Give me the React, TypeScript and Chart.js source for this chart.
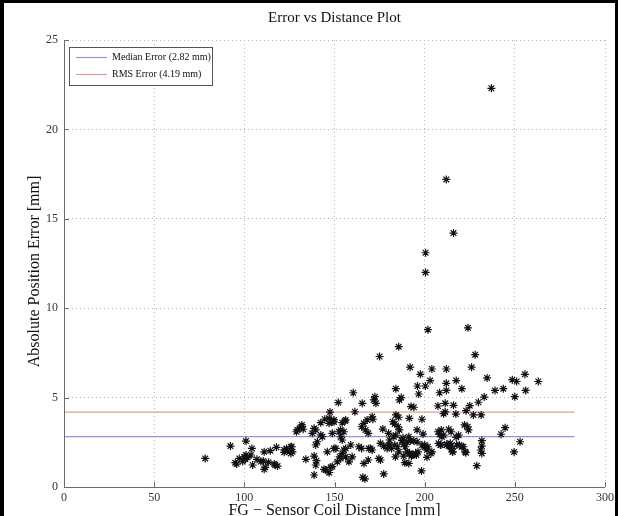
import { useEffect, useRef } from 'react';
import { Chart, registerables } from 'chart.js';
Chart.register(...registerables);

// Sensor coil distance [mm]
const distance = [
  237, 212, 216, 200.5, 200.5, 201.8, 224, 185.6, 175, 228, 191.9, 204, 212, 226, 197.6, 203, 217.5, 234.6, 255.6, 248.6,
  251, 196, 200.4, 212, 212, 220.6, 184, 208.3, 196.7, 243.6, 239, 256, 263,
  172.4, 171.8, 173, 187, 186, 233, 250, 229.8, 211.4, 207.4, 216, 192.4, 194, 225, 223, 211.4, 210.5,
  217.3, 227, 231.3, 170.9, 171.3, 184.1, 185.6, 191.5, 198.5, 182.3, 183.4, 185.3, 186, 176.8, 195.8, 199.1, 207.4, 208.3, 209.6, 213.3,
  214.7, 222.1, 223.9, 224.3, 218.8, 217.5, 244.6, 242.4, 231.7, 231.7, 231.1, 231.7, 252.9, 249.6, 228.9, 219.2, 221.5, 214.2, 213.3, 215.6,
  222.8, 207.7, 198.5, 200, 201.3, 201.8, 204, 198.2, 201.3, 194, 195.8, 191.2, 192.1, 187.5, 188.4, 189.3, 190.2, 191.5, 193, 189,
  191.2, 195.4, 183.8, 185.6, 180.1, 181.6, 183.4, 175.5, 177.3, 179.2, 180.5, 182.9, 170.9, 170, 174.6, 175.5, 177.3, 210.5, 209.2, 212.3,
  215, 208.7, 180, 184, 188,
  160.4, 152.1, 165.4, 147.5, 161.3, 142.4, 144.6, 147, 148.8, 149.7, 156.2, 129.4, 131.9, 132.6, 138.7, 139.6, 137.7, 143.3, 142.4, 148.8,
  152.5, 153.4, 155.2, 165, 166.3, 168.1, 167.2, 168.7, 122.1, 123.4, 125.8, 126.7, 134.1, 138.7, 140, 139.6, 138.7, 146, 149.7, 145.1,
  147.9, 147, 153.4, 156.2, 158, 159, 163.5, 165, 155.2, 169, 165.7, 166.9, 166.3, 159.8, 151.6, 152.9, 168.7, 153.4, 154.3,
  78.3, 92.3, 100.9, 104.2, 100, 100.9, 101.8, 100.6, 95, 95.7, 104.6, 107, 111, 114.4, 117.8, 110.5, 113.4, 117.1, 111.6, 97.2,
  99.1, 103.7, 109.2, 122.1, 123.9, 126.3, 125.8, 116.6, 118.4, 111, 128.9, 130.7, 131.9, 139.6, 140.5, 144.2, 148.8, 150.7, 154.3, 156.2,
  147, 149.7, 154.3, 155.8,
  180.5, 185, 187.5, 190.2, 191.7, 192.6, 196.3, 188.4, 193, 195, 200, 203.5, 209, 212.3, 214.2, 215.4, 217.8, 220.6, 222.5
];

// Absolute position error [mm]
const error = [
  22.3, 17.2, 14.2, 13.1, 12.0, 8.8, 8.9, 7.85, 7.3, 7.4, 6.7, 6.6, 6.6, 6.7, 6.3, 5.95, 5.95, 6.1, 6.3, 6.0,
  5.9, 5.65, 5.65, 5.8, 5.4, 5.5, 5.5, 5.27, 5.2, 5.5, 5.4, 5.4, 5.9,
  5.05, 4.87, 4.68, 5.0, 4.87, 5.03, 5.05, 4.74, 4.68, 4.53, 4.57, 4.5, 4.46, 4.55, 4.27, 4.2, 4.1,
  4.08, 4.03, 4.03, 3.93, 3.79, 4.03, 3.9, 3.84, 3.79, 3.65, 3.52, 3.37, 3.19, 3.24, 3.19, 2.96, 3.09, 2.95, 2.81, 3.23,
  3.09, 3.47, 3.37, 3.19, 2.9, 2.78, 3.32, 2.95, 2.59, 2.29, 2.07, 1.88, 2.53, 1.96, 1.19, 2.35, 2.25, 2.44, 2.29, 1.97,
  1.92, 2.44, 2.35, 2.22, 2.07, 2.25, 1.97, 0.9, 1.66, 2.59, 2.53, 2.81, 2.59, 2.59, 2.4, 2.25, 1.97, 1.88, 1.79, 1.36,
  1.32, 1.79, 1.69, 1.97, 2.35, 2.16, 2.35, 2.44, 2.29, 2.16, 2.63, 2.81, 2.07, 2.16, 1.6, 1.51, 0.73, 2.9, 3.19, 2.35,
  2.16, 2.35, 3.0, 2.9, 2.75,
  5.27, 4.72, 4.68, 4.19, 4.21, 3.6, 3.79, 3.84, 3.65, 3.75, 3.75, 3.19, 3.37, 3.23, 3.28, 3.19, 3.0, 2.81, 2.91, 3.0,
  3.09, 3.19, 3.09, 3.37, 3.56, 3.75, 3.19, 3.0, 2.07, 2.16, 2.25, 1.97, 1.55, 1.73, 1.47, 1.23, 0.67, 1.97, 2.16, 0.95,
  1.1, 0.8, 1.6, 1.69, 1.41, 2.35, 2.25, 2.16, 2.07, 2.16, 0.54, 0.46, 1.32, 1.69, 1.41, 1.69, 1.51, 2.81, 2.63,
  1.6, 2.29, 2.57, 2.16, 1.69, 1.79, 1.66, 1.55, 1.36, 1.28, 1.23, 1.55, 1.97, 2.03, 2.22, 1.45, 1.38, 1.23, 1.1, 1.6,
  1.42, 1.79, 1.42, 1.94, 2.03, 2.25, 1.88, 1.29, 1.17, 0.99, 3.09, 3.28, 3.47, 2.35, 2.53, 0.99, 1.14, 2.16, 1.88, 2.16,
  3.56, 3.65, 3.6, 3.69,
  2.35, 2.25, 2.63, 2.5, 1.88, 1.73, 1.97, 1.73, 1.79, 1.88, 2.35, 1.88, 2.35, 2.4, 2.25, 1.97, 2.35, 2.25, 1.97
];

const medianError = 2.82;
const rmsError = 4.19;
const refLineRange = [0, 283];
const xTickValues = [0, 50, 100, 150, 200, 250, 300];
const yTickValues = [0, 5, 10, 15, 20, 25];
const legendLabels = ['Median Error (2.82 mm)', 'RMS Error (4.19 mm)'];
const titleText = 'Error vs Distance Plot';
const xTitle = 'FG \u2212 Sensor Coil Distance [mm]';
const yTitle = 'Absolute Position Error [mm]';

const SERIF = '"Liberation Serif", "DejaVu Serif", serif';
const MEDIAN_COLOR = '#9494d2';
const RMS_COLOR = '#e59c92';

const decorPlugin = {
  id: 'decor',
  afterDraw(chart: any) {
    const { ctx, chartArea, scales } = chart;
    const xs = scales.x;
    const ys = scales.y;
    ctx.save();
    // axes
    ctx.strokeStyle = '#6a6a6a';
    ctx.lineWidth = 1;
    ctx.beginPath();
    ctx.moveTo(Math.round(chartArea.left) + 0.5, chartArea.top);
    ctx.lineTo(Math.round(chartArea.left) + 0.5, Math.round(chartArea.bottom) + 0.5);
    ctx.lineTo(chartArea.right, Math.round(chartArea.bottom) + 0.5);
    ctx.stroke();
    // inner ticks
    ctx.beginPath();
    for (const v of xTickValues) {
      const px = Math.round(xs.getPixelForValue(v)) + 0.5;
      ctx.moveTo(px, chartArea.bottom);
      ctx.lineTo(px, chartArea.bottom - 5);
    }
    for (const v of yTickValues) {
      const py = Math.round(ys.getPixelForValue(v)) + 0.5;
      ctx.moveTo(chartArea.left, py);
      ctx.lineTo(chartArea.left + 5, py);
    }
    ctx.stroke();

    // title
    ctx.fillStyle = '#111';
    ctx.textAlign = 'center';
    ctx.textBaseline = 'middle';
    ctx.font = `15px ${SERIF}`;
    const cx = (chartArea.left + chartArea.right) / 2;
    ctx.fillText(titleText, cx, 18);
    // x title
    ctx.font = `16px ${SERIF}`;
    ctx.textBaseline = 'top';
    ctx.fillText(xTitle, cx, 503);
    // y title
    ctx.save();
    ctx.translate(35, (chartArea.top + chartArea.bottom) / 2 + 8);
    ctx.rotate(-Math.PI / 2);
    ctx.textBaseline = 'middle';
    ctx.fillText(yTitle, 0, 0);
    ctx.restore();

    // legend
    const lx = 69, ly = 47, lw = 143, lh = 38;
    ctx.fillStyle = '#fff';
    ctx.fillRect(lx, ly, lw, lh);
    ctx.strokeStyle = '#555';
    ctx.lineWidth = 1;
    ctx.strokeRect(lx + 0.5, ly + 0.5, lw, lh);
    const colors = [MEDIAN_COLOR, RMS_COLOR];
    ctx.font = `10px ${SERIF}`;
    ctx.textAlign = 'left';
    ctx.textBaseline = 'middle';
    legendLabels.forEach((lab, i) => {
      const yy = ly + 10.5 + i * 17;
      ctx.strokeStyle = colors[i];
      ctx.lineWidth = 1.2;
      ctx.beginPath();
      ctx.moveTo(lx + 7, yy);
      ctx.lineTo(lx + 38, yy);
      ctx.stroke();
      ctx.fillStyle = '#111';
      ctx.fillText(lab, lx + 43, yy);
    });

    // outer frame
    ctx.fillStyle = '#000';
    ctx.fillRect(0, 0, 4, 516);
    ctx.fillRect(0, 0, 618, 3);
    ctx.fillRect(615, 0, 3, 516);
    ctx.restore();
  }
};

export default function App() {
  const ref = useRef<HTMLCanvasElement | null>(null);
  useEffect(() => {
    if (!ref.current) return;
    const points = distance.map((d, i) => ({ x: d, y: error[i] }));
    const chart = new Chart(ref.current, {
      type: 'scatter',
      data: {
        datasets: [
          {
            label: 'Error',
            data: points,
            pointStyle: 'star',
            radius: 4,
            borderColor: '#111',
            backgroundColor: '#111',
            borderWidth: 1.2,
            showLine: false
          } as any,
          {
            label: legendLabels[0],
            data: refLineRange.map((x) => ({ x, y: medianError })),
            showLine: true,
            borderColor: MEDIAN_COLOR,
            borderWidth: 1.3,
            pointRadius: 0
          },
          {
            label: legendLabels[1],
            data: refLineRange.map((x) => ({ x, y: rmsError })),
            showLine: true,
            borderColor: RMS_COLOR,
            borderWidth: 1.3,
            pointRadius: 0
          }
        ]
      },
      options: {
        responsive: false,
        animation: false,
        devicePixelRatio: 1,
        layout: { padding: { left: 0, right: 11, top: 40, bottom: 0 } },
        plugins: { legend: { display: false }, tooltip: { enabled: false }, title: { display: false } },
        scales: {
          x: {
            type: 'linear',
            min: 0,
            max: 300,
            afterBuildTicks: (s: any) => { s.ticks = xTickValues.map((v) => ({ value: v })); },
            afterFit: (s: any) => { s.height = 29; },
            ticks: { font: { family: SERIF, size: 12 }, color: '#333', padding: 4, maxRotation: 0 },
            grid: { color: '#b5b5b5', drawTicks: false } as any,
            border: { display: false, dash: [1, 3] }
          },
          y: {
            type: 'linear',
            min: 0,
            max: 25,
            afterBuildTicks: (s: any) => { s.ticks = yTickValues.map((v) => ({ value: v })); },
            afterFit: (s: any) => { s.width = 64; },
            ticks: { font: { family: SERIF, size: 12 }, color: '#333', padding: 6 },
            grid: { color: '#b5b5b5', drawTicks: false } as any,
            border: { display: false, dash: [1, 3] }
          }
        }
      },
      plugins: [decorPlugin]
    });
    return () => chart.destroy();
  }, []);
  return (
    <div style={{ position: 'absolute', left: 0, top: 0, width: 618, height: 516, background: '#fff' }}>
      <canvas ref={ref} width={618} height={516} style={{ display: 'block', width: 618, height: 516 }} />
    </div>
  );
}
